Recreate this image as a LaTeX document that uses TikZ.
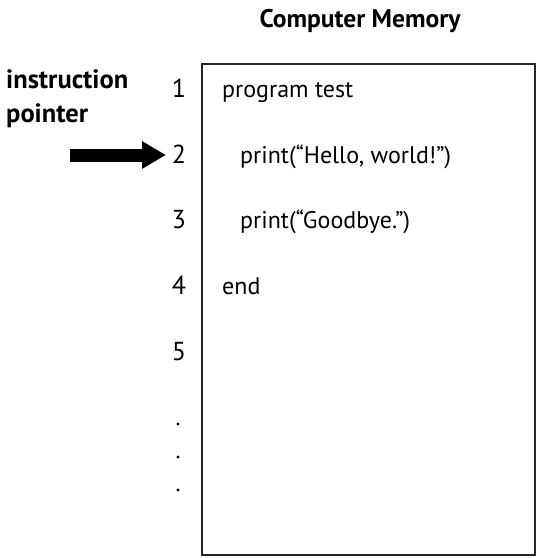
\documentclass[tikz,border=0pt]{standalone}
\usepackage{fontspec}
\setmainfont{PT Sans}
\usetikzlibrary{arrows.meta}
\begin{document}
\begin{tikzpicture}[x=1pt,y=-1pt,
  txt/.style={font=\fontsize{24}{28}\selectfont, inner sep=0pt},
  bold/.style={font=\fontsize{26.5}{30}\selectfont\bfseries, inner sep=0pt},
  num/.style={font=\fontsize{26}{30}\selectfont, inner sep=0pt, anchor=base},
  code/.style={txt, anchor=base west}]
\useasboundingbox (0,0) rectangle (536,558);
\node[bold, anchor=base, font=\fontsize{25.5}{30}\selectfont\bfseries] (title) at (360,27) {Computer Memory};
\draw[line width=1.3pt, draw=black!85] (202,64) rectangle (535,555);
\node[bold, anchor=base west] (ip1) at (6,88) {instruction};
\node[bold, anchor=base west] (ip2) at (6,122) {pointer};
\foreach \n/\y in {1/97,2/163,3/228,4/294,5/360}
  \node[num] (n\n) at (179,\y) {\n};
\foreach \i/\y in {1/424,2/457,3/490}
  \fill (178,\y) circle (1.6);
\node[code] (c1) at (222,97) {program test};
\node[code] (c2) at (240,163) {print(“Hello, world!”)};
\node[code] (c3) at (240,228) {print(“Goodbye.”)};
\node[code] (c4) at (222,294) {end};
\coordinate (tail) at (70,155);
\coordinate (tip) at (166,155);
\draw[line width=13pt, -{Triangle[length=24pt,width=26pt]}] (tail) -- (tip);
\end{tikzpicture}
\end{document}
